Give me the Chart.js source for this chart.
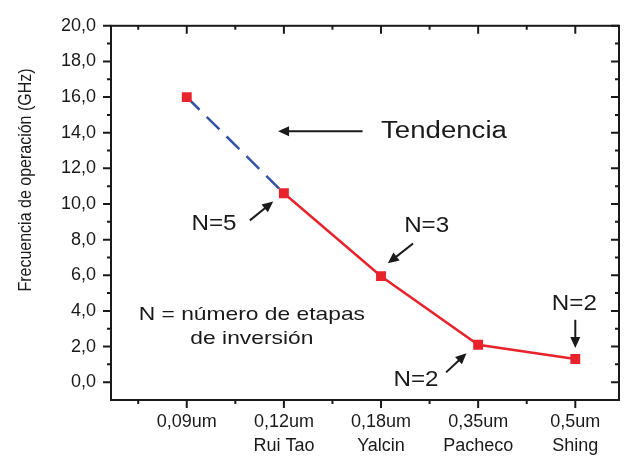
<!DOCTYPE html>
<html>
<head>
<meta charset="utf-8">
<script src="https://cdn.jsdelivr.net/npm/chart.js@4.4.0/dist/chart.umd.min.js"></script>
<style>
  body { margin: 0; background: #fff; }
  #wrap { width: 627px; height: 456px; }
</style>
</head>
<body>
<div id="wrap"><canvas id="freqChart" width="627" height="456"></canvas></div>
<script>
// data
const categories = ['0,09um', '0,12um', '0,18um', '0,35um', '0,5um'];
const authors = ['', 'Rui Tao', 'Yalcin', 'Pacheco', 'Shing'];
const positions = [1, 2, 3, 4, 5];
const frequencies = [16.0, 10.6, 5.95, 2.1, 1.3];
const yTicks = [0, 2, 4, 6, 8, 10, 12, 14, 16, 18, 20];

const RED = '#e8232b';
const BLUE = '#3553a6';
const INK = '#1a1a1a';
const FONT = '"Liberation Sans", Arial, sans-serif';

// annotations in data units (x, y); the original text is a bit wide, hence sx
const labels = [
    { text: 'Tendencia', x: 3.0, y: 14.08, size: 23, sx: 1.2, align: 'left' },
    { text: 'N=5', x: 1.28, y: 8.87, size: 22, sx: 1.1 },
    { text: 'N=3', x: 3.47, y: 8.76, size: 22, sx: 1.1 },
    { text: 'N=2', x: 3.36, y: 0.1, size: 22, sx: 1.1 },
    { text: 'N=2', x: 4.99, y: 4.38, size: 22, sx: 1.1 },
    { text: 'N = número de etapas', x: 1.67, y: 3.78, size: 19, sx: 1.2 },
    { text: 'de inversión', x: 1.67, y: 2.41, size: 19, sx: 1.2 }
];
const arrows = [
    { from: [2.81, 14.08], to: [1.94, 14.08] },
    { from: [1.65, 9.08], to: [1.89, 10.14] },
    { from: [3.33, 7.78], to: [3.07, 6.67] },
    { from: [3.67, 0.55], to: [3.88, 1.63] },
    { from: [5.0, 3.5], to: [5.0, 1.92] }
];

function drawArrow(ctx, x1, y1, x2, y2) {
    const ang = Math.atan2(y2 - y1, x2 - x1);
    const len = 11, half = 5;
    ctx.beginPath();
    ctx.moveTo(x1, y1);
    ctx.lineTo(x2 - Math.cos(ang) * len * 0.8, y2 - Math.sin(ang) * len * 0.8);
    ctx.stroke();
    ctx.beginPath();
    ctx.moveTo(x2, y2);
    ctx.lineTo(x2 - Math.cos(ang) * len - Math.sin(ang) * half, y2 - Math.sin(ang) * len + Math.cos(ang) * half);
    ctx.lineTo(x2 - Math.cos(ang) * len + Math.sin(ang) * half, y2 - Math.sin(ang) * len - Math.cos(ang) * half);
    ctx.closePath();
    ctx.fill();
}

const framePlugin = {
    id: 'frame',
    beforeDatasetsDraw(chart) {
        const { ctx, chartArea: a, scales: { x, y } } = chart;
        ctx.save();
        ctx.strokeStyle = INK;
        ctx.lineWidth = 2;
        ctx.strokeRect(a.left, a.top, a.right - a.left, a.bottom - a.top);
        ctx.beginPath();
        // x ticks every 0.5, bottom outward, top inward
        for (let v = 0.5; v <= 5.0001; v += 0.5) {
            const px = x.getPixelForValue(v);
            const len = Number.isInteger(v) ? 8 : 4;
            ctx.moveTo(px, a.bottom); ctx.lineTo(px, a.bottom + len);
            ctx.moveTo(px, a.top); ctx.lineTo(px, a.top + len);
        }
        // y ticks every 1, both pointing left
        for (let v = 0; v <= 20; v++) {
            const py = y.getPixelForValue(v);
            const len = v % 2 === 0 ? 8 : 4;
            ctx.moveTo(a.left, py); ctx.lineTo(a.left - len, py);
            ctx.moveTo(a.right, py); ctx.lineTo(a.right - len, py);
        }
        ctx.stroke();
        ctx.restore();
    },
    afterDraw(chart) {
        const { ctx, scales: { x, y } } = chart;
        ctx.save();
        ctx.fillStyle = INK;
        ctx.strokeStyle = INK;
        ctx.lineWidth = 2;
        ctx.textBaseline = 'middle';
        labels.forEach(l => {
            ctx.save();
            ctx.font = l.size + 'px ' + FONT;
            ctx.textAlign = l.align || 'center';
            ctx.translate(x.getPixelForValue(l.x), y.getPixelForValue(l.y));
            ctx.scale(l.sx, 1);
            ctx.fillText(l.text, 0, 0);
            ctx.restore();
        });
        arrows.forEach(r => {
            drawArrow(ctx, x.getPixelForValue(r.from[0]), y.getPixelForValue(r.from[1]),
                x.getPixelForValue(r.to[0]), y.getPixelForValue(r.to[1]));
        });
        // y axis title
        ctx.font = '16px ' + FONT;
        ctx.textAlign = 'center';
        ctx.translate(26, 180);
        ctx.rotate(-Math.PI / 2);
        ctx.scale(1, 1.15);
        ctx.fillText('Frecuencia de operación (GHz)', 0, 0);
        ctx.restore();
    }
};

const ctx = document.getElementById('freqChart').getContext('2d');
new Chart(ctx, {
    type: 'line',
    data: {
        datasets: [{
            label: 'Frecuencia',
            data: positions.map((p, i) => ({ x: p, y: frequencies[i] })),
            borderColor: RED,
            borderWidth: 2.5,
            tension: 0,
            pointStyle: 'rect',
            pointRadius: 7,
            pointBackgroundColor: RED,
            pointBorderWidth: 0,
            segment: {
                // first segment is the extrapolated trend
                borderColor: c => c.p0DataIndex === 0 ? BLUE : RED,
                borderDash: c => c.p0DataIndex === 0 ? [18, 10] : []
            }
        }]
    },
    options: {
        responsive: false,
        animation: false,
        layout: { padding: { top: 16, right: 8, left: 0, bottom: 0 } },
        plugins: {
            legend: { display: false },
            tooltip: { enabled: false }
        },
        scales: {
            x: {
                type: 'linear',
                min: 0.22,
                max: 5.45,
                grid: { display: false, drawTicks: false },
                border: { display: false },
                afterBuildTicks: s => { s.ticks = positions.map(v => ({ value: v })); },
                afterFit: s => { s.height = 56; },
                ticks: {
                    autoSkip: false,
                    maxRotation: 0,
                    padding: 10,
                    color: INK,
                    font: { family: FONT, size: 18, lineHeight: 1.35 },
                    callback: v => {
                        const i = positions.indexOf(v);
                        return authors[i] ? [categories[i], authors[i]] : categories[i];
                    }
                }
            },
            y: {
                min: -1,
                max: 20,
                grid: { display: false, drawTicks: false },
                border: { display: false },
                afterBuildTicks: s => { s.ticks = yTicks.map(v => ({ value: v })); },
                afterFit: s => { s.width = 111; },
                ticks: {
                    autoSkip: false,
                    padding: 15,
                    color: INK,
                    font: { family: FONT, size: 18 },
                    callback: v => v.toFixed(1).replace('.', ',')
                }
            }
        }
    },
    plugins: [framePlugin]
});
</script>
</body>
</html>
